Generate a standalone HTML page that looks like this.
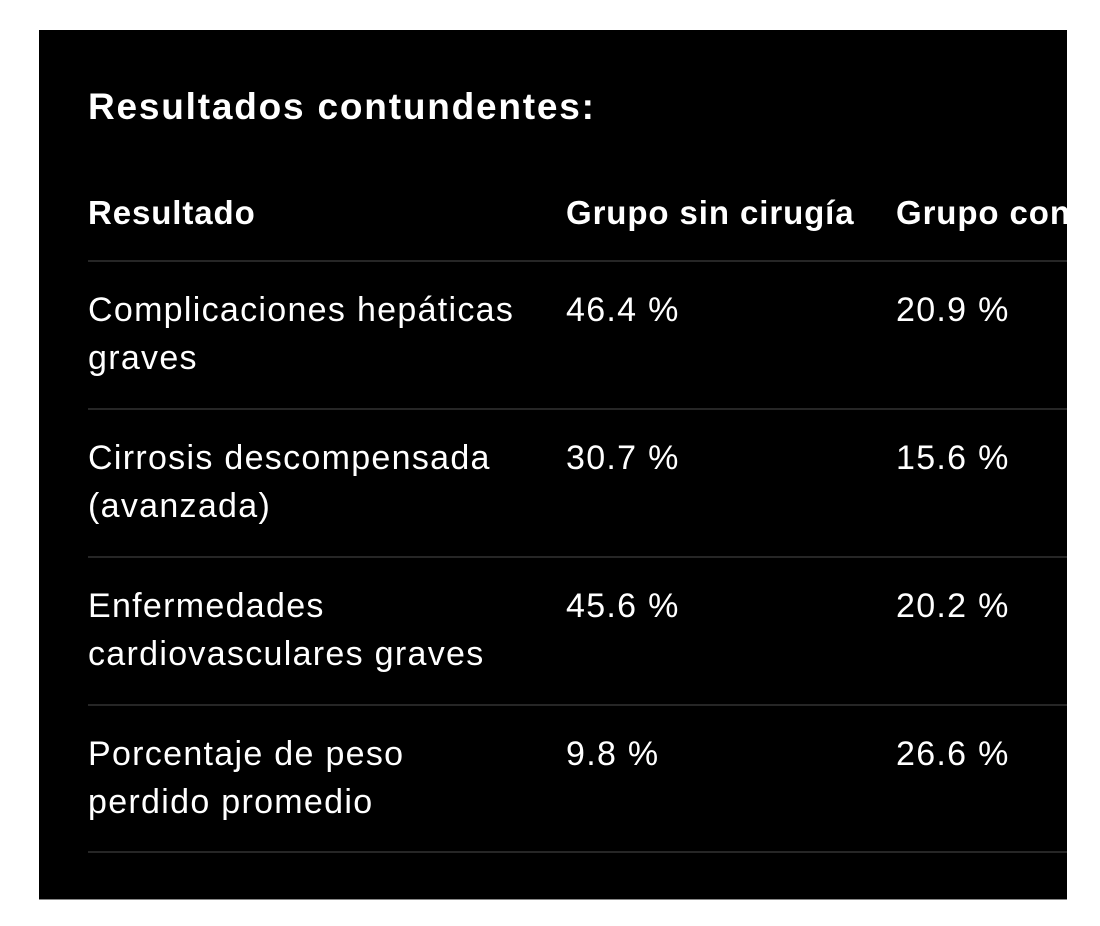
<!DOCTYPE html>
<html><head><meta charset="utf-8"><style>
html,body{margin:0;padding:0;background:#fff;width:1100px;height:926px;overflow:hidden}
.card{position:absolute;left:39px;top:30px;width:1028px;height:869px;background:#000;overflow:hidden;border-bottom:1px solid #888}
.t{position:absolute;color:#fff;font-family:"Liberation Sans",sans-serif;white-space:nowrap;line-height:48px;font-size:34px;letter-spacing:1.3px}
.b{font-weight:bold}
.h{font-size:33px;letter-spacing:0.9px}
.line{position:absolute;left:49px;right:0;height:2px;background:#262626}
</style></head><body>
<div class="card">
<div class="t b" style="left:49px;top:53px;font-size:37px;letter-spacing:1.8px">Resultados contundentes:</div>
<div class="t b h" style="left:49px;top:159px">Resultado</div>
<div class="t b h" style="left:527px;top:159px">Grupo sin cirugía</div>
<div class="t b h" style="left:857px;top:159px">Grupo con cirugía</div>
<div class="line" style="top:230px"></div>

<div class="t" style="left:49px;top:256px">Complicaciones hepáticas<br>graves</div>
<div class="t" style="left:527px;top:256px">46.4 %</div>
<div class="t" style="left:857px;top:256px">20.9 %</div>
<div class="line" style="top:378px"></div>

<div class="t" style="left:49px;top:404px">Cirrosis descompensada<br>(avanzada)</div>
<div class="t" style="left:527px;top:404px">30.7 %</div>
<div class="t" style="left:857px;top:404px">15.6 %</div>
<div class="line" style="top:526px"></div>

<div class="t" style="left:49px;top:552px">Enfermedades<br>cardiovasculares graves</div>
<div class="t" style="left:527px;top:552px">45.6 %</div>
<div class="t" style="left:857px;top:552px">20.2 %</div>
<div class="line" style="top:674px"></div>

<div class="t" style="left:49px;top:700px">Porcentaje de peso<br>perdido promedio</div>
<div class="t" style="left:527px;top:700px">9.8 %</div>
<div class="t" style="left:857px;top:700px">26.6 %</div>
<div class="line" style="top:821px"></div>
</div>
</body></html>
